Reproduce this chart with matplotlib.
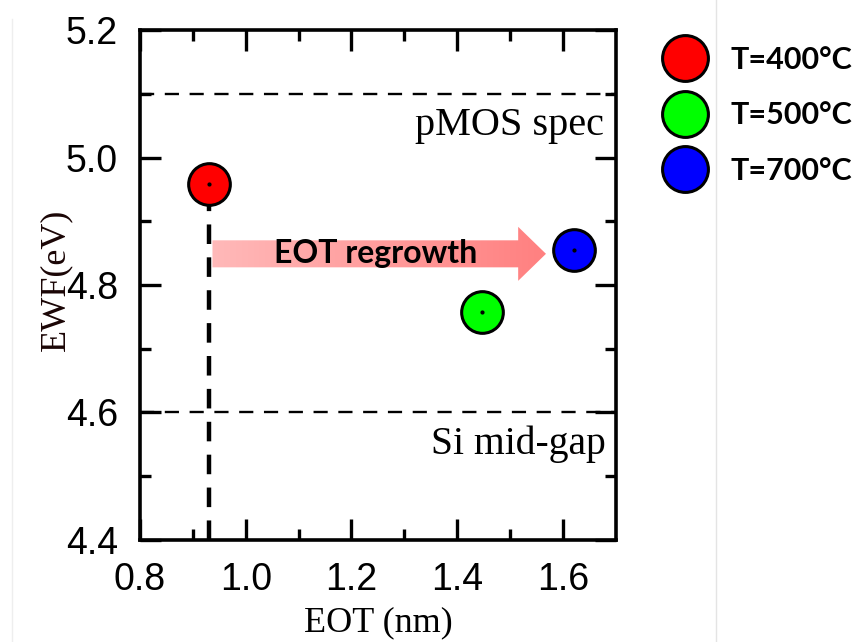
import matplotlib
matplotlib.use("Agg")
import matplotlib.pyplot as plt
import numpy as np
from matplotlib.patches import Polygon
from matplotlib.lines import Line2D

# ---------------- data ----------------
labels = ["T=400°C", "T=500°C", "T=700°C"]
eot = [0.93, 1.447, 1.621]
ewf = [4.958, 4.757, 4.855]
colors = ["#ff0000", "#00ff00", "#0000ff"]

pmos_spec = 5.1
si_midgap = 4.6
x_ticks = [0.8, 1.0, 1.2, 1.4, 1.6]
y_ticks = [4.4, 4.6, 4.8, 5.0, 5.2]

arrow_x0, arrow_x1 = 0.937, 1.568
arrow_y = 4.849

# ---------------- figure ----------------
fig = plt.figure(figsize=(8.54, 6.42), dpi=100)
ax = fig.add_axes([0.164, 0.159, 0.557, 0.794])

ax.set_xlim(0.8, 1.7)
ax.set_ylim(4.4, 5.2)

# reference lines
ax.axhline(pmos_spec, color="black", lw=1.7, dashes=(6, 4.5), zorder=1)
ax.axhline(si_midgap, color="black", lw=1.7, dashes=(6, 4.5), zorder=1)
ax.plot([eot[0], eot[0]], [4.4, ewf[0]], color="black", lw=3.2,
        dashes=(4.4, 3.0), zorder=1, solid_capstyle="butt")

# gradient arrow
body_h = 0.0212
head_h = 0.0424
head_l = 0.0526
xb = arrow_x1 - head_l
verts = [(arrow_x0, arrow_y - body_h), (xb, arrow_y - body_h), (xb, arrow_y - head_h),
         (arrow_x1, arrow_y), (xb, arrow_y + head_h), (xb, arrow_y + body_h),
         (arrow_x0, arrow_y + body_h)]
poly = Polygon(verts, closed=True, facecolor="none", edgecolor="none", transform=ax.transData)
ax.add_patch(poly)
grad = np.linspace(0, 1, 256).reshape(1, -1)
c0 = np.array([255, 185, 185]) / 255
c1 = np.array([255, 128, 128]) / 255
img = (c0[None, None, :] * (1 - grad[..., None]) + c1[None, None, :] * grad[..., None])
im = ax.imshow(img, extent=[arrow_x0, arrow_x1, arrow_y - head_h, arrow_y + head_h],
               aspect="auto", zorder=2, interpolation="bilinear")
im.set_clip_path(poly)
ax.set_xlim(0.8, 1.7)
ax.set_ylim(4.4, 5.2)
ax.text(1.245, arrow_y, "EOT regrowth", ha="center", va="center",
        fontsize=23, fontweight="bold", family="Lato", zorder=3)

# data points
handles = []
for x, y, c, lab in zip(eot, ewf, colors, labels):
    ax.plot([x], [y], "o", ms=30, mfc=c, mec="black", mew=2.2, zorder=4)
    ax.plot([x], [y], "o", ms=2, color="black", zorder=5)
    handles.append(Line2D([], [], marker="o", ls="none", ms=33, mfc=c, mec="black",
                          mew=2.2, label=lab))

# annotations
ax.text(1.678, 5.05, "pMOS spec", ha="right", va="center", fontsize=29,
        family="Liberation Serif")
ax.text(1.681, 4.55, "Si mid-gap", ha="right", va="center", fontsize=28.5,
        family="Liberation Serif")

# ticks & spines
ax.set_xticks(x_ticks)
ax.set_yticks(y_ticks)
ax.set_xticks(np.arange(0.9, 1.7, 0.2), minor=True)
ax.set_yticks(np.arange(4.5, 5.2, 0.2), minor=True)
ax.set_xticklabels([f"{v:.1f}" for v in x_ticks])
ax.set_yticklabels([f"{v:.1f}" for v in y_ticks])
ax.tick_params(which="both", direction="in", top=True, right=True, width=2.4,
               labelsize=27, pad=16)
ax.tick_params(which="major", length=15)
ax.tick_params(which="minor", length=8)
for lab in ax.get_xticklabels() + ax.get_yticklabels():
    lab.set_family("Liberation Sans")
for s in ax.spines.values():
    s.set_linewidth(2.6)

ax.set_xlabel("EOT (nm)", fontsize=26, family="Liberation Serif", labelpad=6)
ax.set_ylabel("EWF(eV)", fontsize=26, family="Liberation Serif", color="#1a0505")
ax.yaxis.set_label_coords(-0.143, 0.51)

# legend
leg = fig.legend(handles=handles, loc="upper left", bbox_to_anchor=(0.741, 0.962),
                 frameon=False, handletextpad=0.5, labelspacing=0.9,
                 borderpad=0.2, prop={"family": "Lato", "weight": "bold", "size": 22})

# faint image border lines
fig.add_artist(Line2D([0.838, 0.838], [0, 1], transform=fig.transFigure,
                      color="#e4e4e4", lw=1))
fig.add_artist(Line2D([0.014, 0.014], [0, 0.97], transform=fig.transFigure,
                      color="#eeeeee", lw=1))

fig.savefig("out.png", dpi=100)
